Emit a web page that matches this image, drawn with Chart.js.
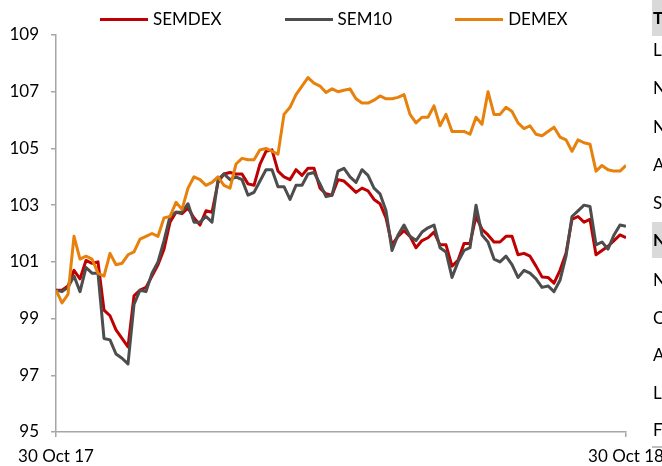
<!DOCTYPE html>
<html>
<head>
<meta charset="utf-8">
<script src="https://cdn.jsdelivr.net/npm/chart.js@4.4.0/dist/chart.umd.min.js"></script>
<style>
  html, body { margin: 0; padding: 0; background: #fff; }
  #wrap { position: relative; width: 662px; height: 466px; overflow: hidden; font-family: Lato, sans-serif; color: #000; }
  #chartCanvas { position: absolute; left: 0; top: 0; }
  #legend { position: absolute; left: 100px; top: 8px; display: flex; gap: 63px; font-size: 17px; line-height: 22px; }
  .item { display: flex; align-items: center; }
  .swatch { width: 48px; height: 3px; margin-right: 5px; }
  #side { position: absolute; left: 652px; top: 0; width: 10px; height: 466px; font-size: 17px; }
  #side div { position: absolute; left: 0; width: 30px; padding-left: 1px; height: 36px; line-height: 36px; }
  #side .head { background: #d9d9d9; font-weight: bold; }
  #side .rule { height: 2px; background: #bfbfbf; }
</style>
</head>
<body>
<div id="wrap">
  <canvas id="chartCanvas" width="700" height="466"></canvas>
  <div id="legend"></div>
  <div id="side"></div>
</div>
<script>
const seriesNames = ['SEMDEX', 'SEM10', 'DEMEX'];
const seriesColors = ['#c00000', '#4d4d4d', '#e8800c'];
const tickLabels = ['30 Oct 17', '30 Oct 18'];

const semdex = [
  100.0, 100.0, 100.15, 100.7, 100.4, 101.05, 100.95, 101.0, 99.3, 99.1,
  98.6, 98.3, 98.0, 99.8, 100.0, 100.1, 100.5, 100.9, 101.45, 102.4,
  102.75, 102.7, 102.9, 102.55, 102.3, 102.8, 102.75, 103.8, 104.1, 104.15,
  104.1, 104.1, 103.75, 103.7, 104.45, 104.9, 104.95, 104.2, 104.0, 103.9,
  104.25, 104.05, 104.3, 104.3, 103.6, 103.4, 103.35, 103.9, 103.85, 103.65,
  103.45, 103.6, 103.5, 103.2, 103.05, 102.55, 101.6, 101.9, 102.1, 101.9,
  101.5, 101.75, 101.85, 102.05, 101.6, 101.6, 100.85, 101.05, 101.65, 101.65,
  102.6, 102.15, 101.95, 101.7, 101.7, 101.9, 101.9, 101.25, 101.3, 101.2,
  100.85, 100.47, 100.45, 100.25, 100.7, 101.3, 102.5, 102.6, 102.4, 102.5,
  101.25, 101.4, 101.55, 101.75, 101.95, 101.85
];
const sem10 = [
  100.0, 99.95, 100.1, 100.5, 99.95, 100.8, 100.6, 100.6, 98.3, 98.25,
  97.75, 97.6, 97.4, 99.5, 100.0, 99.95, 100.6, 101.0, 101.75, 102.6,
  102.75, 102.75, 103.05, 102.4, 102.4, 102.6, 102.4, 103.9, 104.1, 103.9,
  104.0, 103.9, 103.35, 103.45, 103.85, 104.25, 104.25, 103.65, 103.65, 103.2,
  103.7, 103.7, 104.1, 104.15, 103.75, 103.3, 103.35, 104.2, 104.3, 104.0,
  103.8, 104.25, 104.05, 103.6, 103.4, 102.8, 101.4, 101.95, 102.3, 101.9,
  101.75, 102.05, 102.2, 102.3, 101.5, 101.35, 100.45, 101.0, 101.4, 101.5,
  103.0, 101.95, 101.7, 101.1, 101.0, 101.2, 100.9, 100.45, 100.7, 100.6,
  100.4, 100.1, 100.15, 99.95, 100.35, 101.2, 102.6, 102.8, 103.0, 102.95,
  101.6, 101.7, 101.45, 101.95, 102.3, 102.25
];
const demex = [
  100.0, 99.55, 99.85, 101.9, 101.1, 101.2, 101.1, 100.6, 100.5, 101.3,
  100.9, 100.95, 101.25, 101.35, 101.8, 101.9, 102.0, 101.9, 102.55, 102.6,
  103.1, 102.85, 103.6, 104.0, 103.9, 103.7, 103.8, 104.0, 103.7, 103.6,
  104.45, 104.65, 104.6, 104.6, 104.95, 105.0, 104.9, 104.8, 106.2, 106.45,
  106.9, 107.2, 107.5, 107.3, 107.2, 106.97, 107.1, 107.0, 107.05, 107.1,
  106.75, 106.6, 106.6, 106.7, 106.85, 106.75, 106.75, 106.8, 106.9, 106.2,
  105.9, 106.1, 106.1, 106.5, 105.8, 106.2, 105.6, 105.6, 105.6, 105.5,
  106.1, 105.85, 107.0, 106.2, 106.2, 106.45, 106.3, 105.9, 105.7, 105.8,
  105.5, 105.45, 105.6, 105.75, 105.4, 105.3, 104.9, 105.3, 105.2, 105.15,
  104.2, 104.4, 104.25, 104.2, 104.2, 104.4
];

const sideRows = [
  { t: 'T', y: 0, head: true },
  { t: 'L', y: 32 }, { t: 'N', y: 70 }, { t: 'N', y: 109 }, { t: 'A', y: 147 }, { t: 'S', y: 185 },
  { t: 'N', y: 222, head: true },
  { t: 'N', y: 262 }, { t: 'C', y: 300 }, { t: 'A', y: 337 }, { t: 'L', y: 375 }, { t: 'F', y: 412 }
];

const days = semdex.map((_, i) => i);
const allSeries = [semdex, sem10, demex];

// legend
const legend = document.getElementById('legend');
seriesNames.forEach((name, i) => {
  const item = document.createElement('div');
  item.className = 'item';
  item.innerHTML = `<span class="swatch" style="background:${seriesColors[i]}"></span><span>${name}</span>`;
  legend.appendChild(item);
});

// clipped table on the right
const side = document.getElementById('side');
sideRows.forEach(r => {
  const div = document.createElement('div');
  div.textContent = r.t;
  div.style.top = r.y + 'px';
  if (r.head) div.className = 'head';
  side.appendChild(div);
});
const rule = document.createElement('div');
rule.className = 'rule';
rule.style.top = '446px';
side.appendChild(rule);

const axisGray = '#a6a6a6';
const tickFont = { family: 'Lato', size: 17 };

new Chart(document.getElementById('chartCanvas'), {
  type: 'line',
  data: {
    labels: days,
    datasets: allSeries.map((data, i) => ({
      label: seriesNames[i],
      data,
      borderColor: seriesColors[i],
      backgroundColor: seriesColors[i],
      borderWidth: 3,
      pointRadius: 0,
      tension: 0,
      borderJoinStyle: 'round',
      order: 3 - i
    }))
  },
  options: {
    responsive: false,
    animation: false,
    layout: { padding: { top: 35, right: 74, left: 0, bottom: 0 } },
    plugins: { legend: { display: false }, tooltip: { enabled: false } },
    scales: {
      x: {
        type: 'linear',
        min: 0,
        max: days.length - 1,
        afterBuildTicks: s => { s.ticks = [{ value: 0 }, { value: days.length - 1 }]; },
        afterFit: s => { s.height = 34; },
        ticks: { callback: (v, i) => tickLabels[i], maxRotation: 0, autoSkip: false, padding: 9, color: '#000', font: tickFont },
        grid: { drawOnChartArea: false, tickLength: 5, color: axisGray, lineWidth: 1.5 },
        border: { color: axisGray, width: 1.5 }
      },
      y: {
        min: 95,
        max: 109,
        afterFit: s => { s.width = 56; },
        ticks: { stepSize: 2, padding: 12, color: '#000', font: tickFont },
        grid: { drawOnChartArea: false, tickLength: 5, color: axisGray, lineWidth: 1.5 },
        border: { color: axisGray, width: 1.5 }
      }
    }
  }
});
</script>
</body>
</html>
